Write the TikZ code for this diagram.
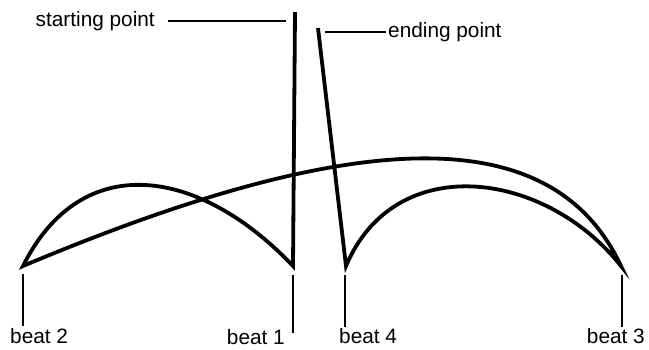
\documentclass[tikz,border=0pt]{standalone}
\usepackage{fontspec}
\setmainfont{Liberation Sans}
\usepackage{tikz}
\usetikzlibrary{calc}
\tikzset{
  beatpath/.style={line width=3.8pt},
  leader/.style={line width=1.3pt},
  lbl/.style={inner sep=0pt, font=\fontsize{20.8}{24}\selectfont}
}

\begin{document}
\begin{tikzpicture}[x=1pt, y=-1pt]
  \useasboundingbox (0,0) rectangle (649,349);
  % beat points
  \coordinate (b1) at (293,266);
  \coordinate (b2) at (23,266);
  \coordinate (b3) at (621,266);
  \coordinate (b4) at (346,266);
  \coordinate (start) at (295,12);
  \coordinate (stop) at (318,28);
  % the pattern
  \draw[beatpath] (start) -- (b1)
    .. controls (200,168) and (82,148) .. (b2)
    .. controls (370,120) and (555,125) .. (b3)
    .. controls (545,170) and (395,150) .. (b4)
    -- (stop);
  % labels
  \node[lbl, anchor=east] (startlbl) at (155,21) {starting point};
  \coordinate (startlead) at (286,21);
  \draw[leader] ([xshift=13pt]startlbl.east) -- (startlead);
  \node[lbl, anchor=west] (stoplbl) at (388,32) {ending point};
  \coordinate (stoplead) at (325,32);
  \draw[leader] (stoplead) -- ([xshift=-2pt]stoplbl.west);
  \node[lbl, anchor=north west] (b2lbl) at (10,328) {beat 2};
  \node[lbl, anchor=north east] (b1lbl) at (285,329) {beat 1};
  \node[lbl, anchor=north west] (b4lbl) at (339,328) {beat 4};
  \node[lbl, anchor=north east] (b3lbl) at (645,328) {beat 3};
  \draw[leader] ([yshift=-8pt]b2) -- ([yshift=2pt]b2 |- b2lbl.north);
  \draw[leader] ([yshift=-9pt]b1) -- ([yshift=-4pt]b1 |- b1lbl.north);
  \draw[leader] ([yshift=-9pt,xshift=-1pt]b4) -- ([yshift=1pt,xshift=-1pt]b4 |- b4lbl.north);
  \draw[leader] ([yshift=-9pt,xshift=1pt]b3) -- ([yshift=1pt,xshift=1pt]b3 |- b3lbl.north);
\end{tikzpicture}
\end{document}
